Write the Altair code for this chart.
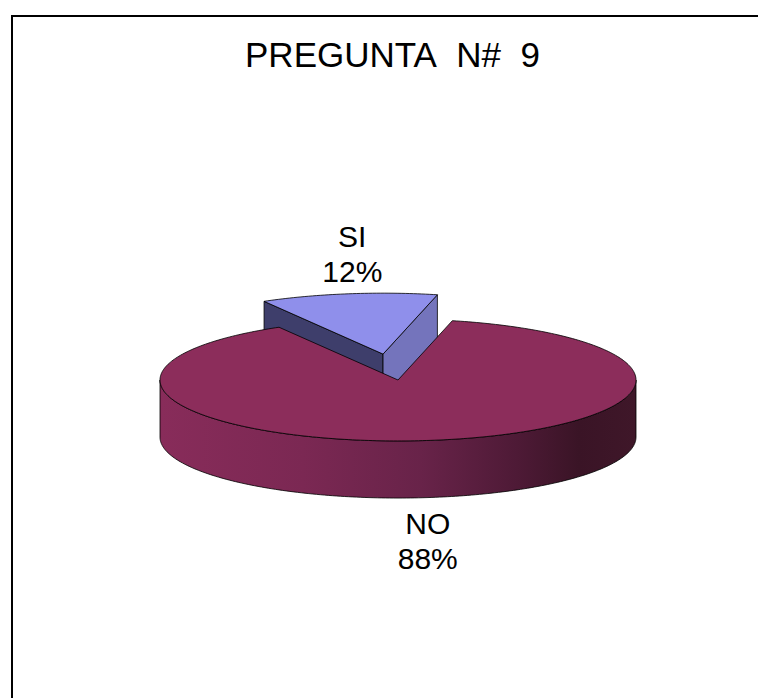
import math

import altair as alt
import pandas as pd

# Survey question results
categories = ["SI", "NO"]
percentages = [12, 88]
title_text = "PREGUNTA\u00a0\u00a0N#\u00a0\u00a09"

# ---- styling ---------------------------------------------------------------
FONT = "Liberation Sans"
TOP_COLOURS = {"SI": "#8F8FEB", "NO": "#8C2D5B"}
FACE_COLOURS = {"SI": ("#3E3E6B", "#7474BC"), "NO": ("#5A1D3B", "#5A1D3B")}
WALL_STOPS = {
    "SI": [(0.0, "#7474BC"), (1.0, "#3E3E6B")],
    "NO": [(0.0, "#882C5A"), (0.3, "#7B2853"), (0.55, "#682349"),
           (0.75, "#4E1A36"), (0.88, "#3A1426"), (1.0, "#3F1729")],
}
EDGE = dict(stroke="#000000", strokeWidth=0.8, strokeJoin="round")

# ---- 3-D pie geometry (disc of unit radius seen from above at an angle) ----
FIRST_SLICE_ANGLE = 330.0   # degrees, clockwise from 12 o'clock
TILT = 0.256                # vertical squash of the disc
DEPTH = 0.24                # thickness of the disc
EXPLODE = {"SI": 0.43, "NO": 0.0}
STEP = 1.0

W, H = 758, 698
PX_PER_UNIT = 238.0
CX, CY = 398.0, 380.0       # pixel position of the pie centre
x_scale = alt.Scale(domain=[-CX / PX_PER_UNIT, (W - CX) / PX_PER_UNIT], nice=False, zero=False)
y_scale = alt.Scale(domain=[(CY - H) / PX_PER_UNIT, CY / PX_PER_UNIT], nice=False, zero=False)


def proj(u, v, z=0.0):
    return u, v * TILT - z


def arc(a0, a1, cu, cv, z):
    n = max(2, int(math.ceil(abs(a1 - a0) / STEP)) + 1)
    pts = []
    for k in range(n):
        a = math.radians(a0 + (a1 - a0) * k / (n - 1))
        pts.append(proj(cu + math.sin(a), cv + math.cos(a), z))
    return pts


total = sum(percentages)
slices = []
start = FIRST_SLICE_ANGLE
for cat, pct in zip(categories, percentages):
    sweep = 360.0 * pct / total
    mid = math.radians(start + sweep / 2)
    ex = EXPLODE[cat]
    slices.append(dict(cat=cat, pct=pct, a0=start, a1=start + sweep,
                       cu=ex * math.sin(mid), cv=ex * math.cos(mid), mid=mid))
    start += sweep

# draw the slices furthest from the viewer first
slices.sort(key=lambda s: -math.cos(s["mid"]))


def polygon_layer(points, fill):
    pts = list(points) + [points[0]]
    df = pd.DataFrame({"x": [p[0] for p in pts], "y": [p[1] for p in pts],
                       "i": list(range(len(pts)))})
    return alt.Chart(df).mark_line(fill=fill, interpolate="linear", **EDGE).encode(
        x=alt.X("x:Q", scale=x_scale, axis=None),
        y=alt.Y("y:Q", scale=y_scale, axis=None),
        order="i:Q",
    )


def gradient(stops):
    return alt.Gradient(gradient="linear", x1=0, x2=1, y1=0, y2=0,
                        stops=[alt.GradientStop(offset=o, color=c) for o, c in stops])


pie_layers = []
label_rows = []
for s in slices:
    cat, a0, a1, cu, cv = s["cat"], s["a0"], s["a1"], s["cu"], s["cv"]
    c_top, c_bot = proj(cu, cv, 0.0), proj(cu, cv, DEPTH)

    # radial faces that point towards the viewer
    for ang, normal, colour in ((a0, a0 - 90, FACE_COLOURS[cat][0]),
                                (a1, a1 + 90, FACE_COLOURS[cat][1])):
        if math.cos(math.radians(normal)) < 0:
            r = math.radians(ang)
            rim_top = proj(cu + math.sin(r), cv + math.cos(r), 0.0)
            rim_bot = proj(cu + math.sin(r), cv + math.cos(r), DEPTH)
            pie_layers.append(polygon_layer([c_top, rim_top, rim_bot, c_bot], colour))

    # curved outer wall on the front half of the disc
    for k in range(-1, 3):
        lo, hi = max(a0, 90 + 360 * k), min(a1, 270 + 360 * k)
        if hi > lo:
            pts = arc(lo, hi, cu, cv, 0.0) + arc(hi, lo, cu, cv, DEPTH)
            pie_layers.append(polygon_layer(pts, gradient(WALL_STOPS[cat])))

    # top face
    pie_layers.append(polygon_layer([c_top] + arc(a0, a1, cu, cv, 0.0), TOP_COLOURS[cat]))

    # label anchor on the rim, along the slice bisector
    m = s["mid"]
    back = math.cos(m) > 0
    lx, ly = proj(cu + math.sin(m), cv + math.cos(m), 0.0 if back else DEPTH)
    label_rows.append(dict(x=lx, y=ly, side="top" if back else "bottom",
                           label=f"{cat}\n{s['pct']}%"))

labels = pd.DataFrame(label_rows)


def label_layer(side, baseline, dx, dy):
    return alt.Chart(labels).transform_filter(alt.datum.side == side).mark_text(
        font=FONT, fontSize=30, lineBreak="\n", lineHeight=35, color="#000000",
        align="center", baseline=baseline, dx=dx, dy=dy,
    ).encode(
        x=alt.X("x:Q", scale=x_scale, axis=None),
        y=alt.Y("y:Q", scale=y_scale, axis=None),
        text="label:N",
    )


frame = alt.Chart(pd.DataFrame({"k": [0]})).mark_rect(
    fill="#ffffff", fillOpacity=0, stroke="#000000", strokeWidth=2
).encode(x=alt.value(12), y=alt.value(16), x2=alt.value(W + 50), y2=alt.value(H + 50))

title = alt.Chart(pd.DataFrame({"t": [title_text]})).mark_text(
    font=FONT, fontSize=35, color="#000000", align="center", baseline="alphabetic"
).encode(x=alt.value(392.5), y=alt.value(67), text="t:N")

chart = alt.layer(
    frame,
    *pie_layers,
    label_layer("top", "alphabetic", 4, -47),
    label_layer("bottom", "top", -5, 13),
    title,
).properties(
    width=W, height=H, padding=0, autosize=alt.AutoSizeParams(type="none"),
    background="#ffffff",
).configure_view(stroke=None)

chart.save("out.html", embed_options={"renderer": "svg", "actions": False})
